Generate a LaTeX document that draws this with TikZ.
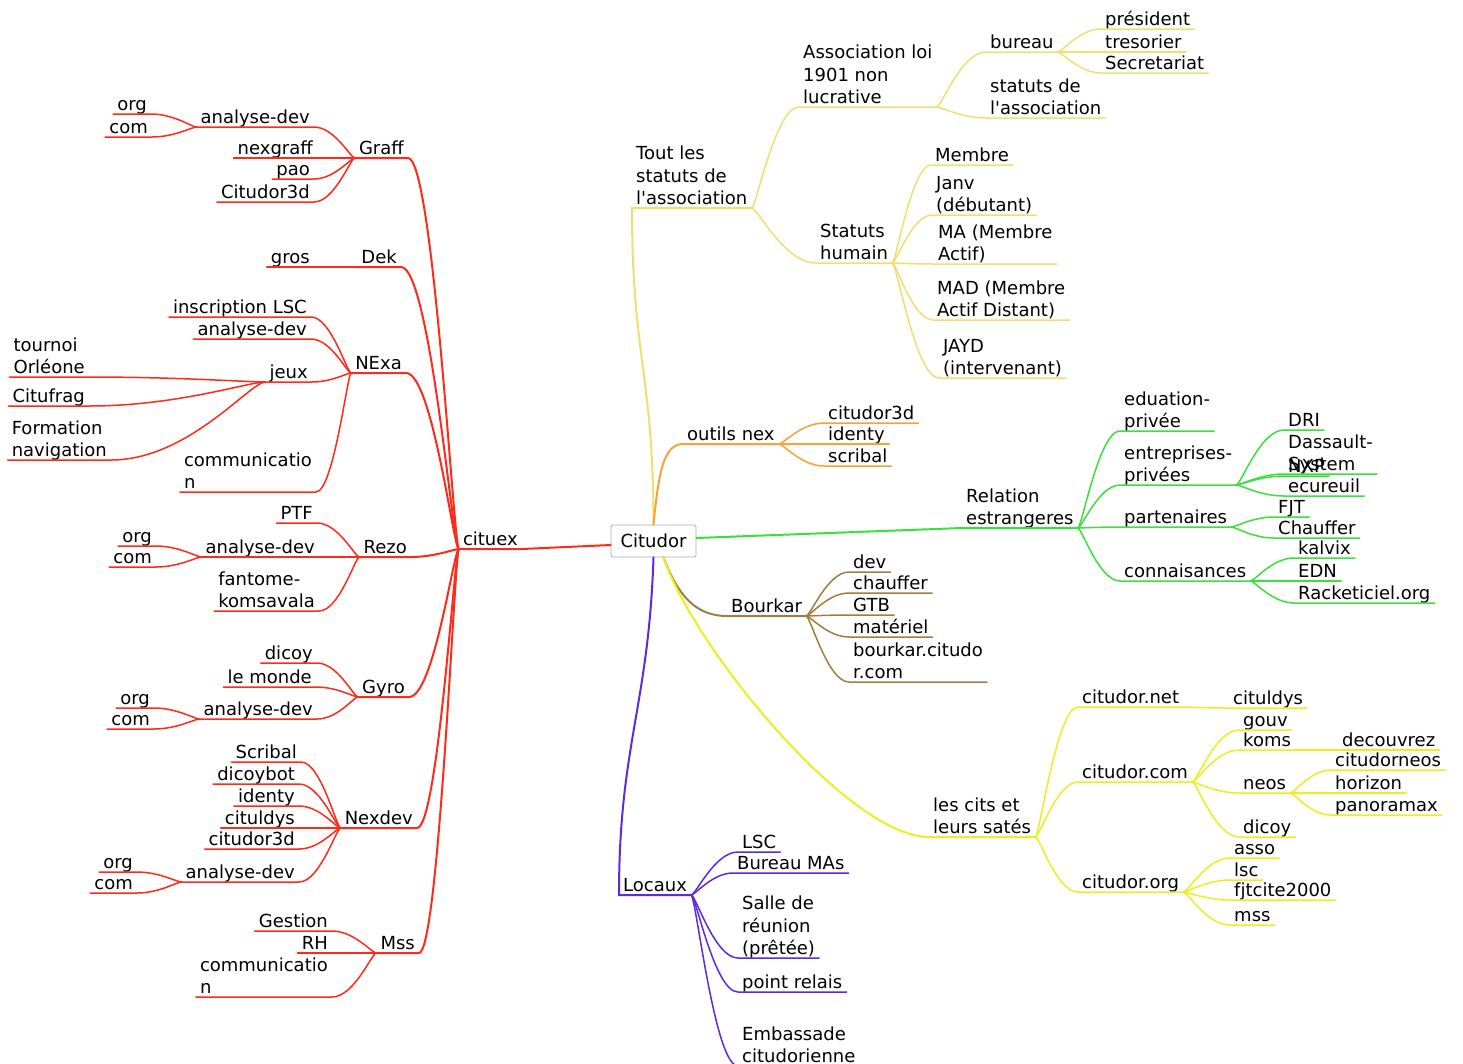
\documentclass[tikz,border=0pt]{standalone}
\usepackage{fontspec}
\newfontfamily\mmfont{DejaVu Sans}
\usetikzlibrary{calc}
\definecolor{mmred}{HTML}{FF2A1A}
\definecolor{mmgold}{HTML}{F2DE70}
\definecolor{mmorange}{HTML}{F5A33A}
\definecolor{mmgreen}{HTML}{3BE03B}
\definecolor{mmbrown}{HTML}{A07E42}
\definecolor{mmyellow}{HTML}{EEEE1E}
\definecolor{mmpurple}{HTML}{5B2BE0}
\tikzset{
  topic/.style={font=\mmfont\fontsize{18}{22.5}\selectfont, inner xsep=4pt, inner ysep=3pt, text depth=0pt, align=left},
  rt/.style={topic, anchor=south west},
  lt/.style={topic, anchor=south east},
  link/.style={line width=1.5pt, line cap=round},
  trunk/.style={line width=2pt, line cap=round},
  rootbox/.style={font=\mmfont\fontsize{18}{22.5}\selectfont, draw=gray!65, line width=0.8pt, fill=white, rounded corners=2pt, minimum width=85pt, minimum height=32pt}
}
% curve from the end of the parent's underline to the child, then the child's underline
\newcommand{\rlink}[3]{\draw[#1] let \p1=(#2.south east), \p2=(#3.south west), \n1={\x2-\x1} in
  (\p1) .. controls +({0.1*\n1},0) and +({-0.5*\n1},0) .. (\p2) -- (#3.south east);}
\newcommand{\llink}[3]{\draw[#1] let \p1=(#2.south west), \p2=(#3.south east), \n1={\x2-\x1} in
  (\p1) .. controls +({0.1*\n1},0) and +({-0.5*\n1},0) .. (\p2) -- (#3.south west);}
\begin{document}
\begin{tikzpicture}[x=1pt, y=-1pt]
    \fill[white] (0,0) rectangle (1463,1063);
    \useasboundingbox (0,0) rectangle (1463,1063);
    \node[rootbox] (citudor) at (653.5,541) {Citudor};
    % left side
    \node[lt] (cituex) at (522,549) {cituex};
    \node[lt] (graff) at (408,158) {Graff};
    \node[lt] (dek) at (401,267) {Dek};
    \node[lt] (nexa) at (406,373) {NExa};
    \node[lt] (rezo) at (411,557) {Rezo};
    \node[lt] (gyro) at (409,697) {Gyro};
    \node[lt] (nexdev) at (417,828) {Nexdev};
    \node[lt] (mss) at (419,953) {Mss};
    \node[lt] (graffad) at (314,127) {analyse-dev};
    \node[lt] (grafforg) at (151,114) {org};
    \node[lt] (graffcom) at (152,137) {com};
    \node[lt] (nexgraff) at (317,158) {nexgraff};
    \node[lt] (pao) at (314,179) {pao};
    \node[lt] (graffthreed) at (314,202) {Citudor3d};
    \node[lt] (gros) at (314,267) {gros};
    \node[lt] (inscription) at (311,317) {inscription LSC};
    \node[lt] (nexaad) at (311,339) {analyse-dev};
    \node[lt] (jeux) at (312,382) {jeux};
    \node[lt] (tournoi) at (89,377) {tournoi\\Orléone};
    \node[lt] (citufrag) at (89,406) {Citufrag};
    \node[lt] (formation) at (111,460) {Formation\\navigation};
    \node[lt] (nexacomm) at (316,492) {communicatio\\n};
    \node[lt] (ptf) at (317,523) {PTF};
    \node[lt] (rezoad) at (319,557) {analyse-dev};
    \node[lt] (rezoorg) at (156,546) {org};
    \node[lt] (rezocom) at (156,567) {com};
    \node[lt] (fantome) at (319,611) {fantome-\\komsavala};
    \node[lt] (gyrodicoy) at (317,663) {dicoy};
    \node[lt] (lemonde) at (316,687) {le monde};
    \node[lt] (gyroad) at (317,719) {analyse-dev};
    \node[lt] (gyroorg) at (154,708) {org};
    \node[lt] (gyrocom) at (154,729) {com};
    \node[lt] (nexscribal) at (301,762) {Scribal};
    \node[lt] (dicoybot) at (299,784) {dicoybot};
    \node[lt] (nexidenty) at (299,806) {identy};
    \node[lt] (nexcituldys) at (299,828) {cituldys};
    \node[lt] (nexthreed) at (299,849) {citudor3d};
    \node[lt] (nexdevad) at (299,882) {analyse-dev};
    \node[lt] (nexdevorg) at (137,872) {org};
    \node[lt] (nexdevcom) at (137,893) {com};
    \node[lt] (gestion) at (332,931) {Gestion};
    \node[lt] (rh) at (332,953) {RH};
    \node[lt] (msscomm) at (332,997) {communicatio\\n};
    % right side
    \node[rt] (tout) at (632,208) {Tout les\\statuts de\\l'association};
    \node[rt] (assoc) at (799,107) {Association loi\\1901 non\\lucrative};
    \node[rt] (bureau) at (986,52) {bureau};
    \node[rt] (president) at (1101,29) {président};
    \node[rt] (tresorier) at (1101,52) {tresorier};
    \node[rt] (secretariat) at (1101,73) {Secretariat};
    \node[rt] (statutsasso) at (986,118) {statuts de\\l'association};
    \node[rt] (humain) at (816,263) {Statuts\\humain};
    \node[rt] (membre) at (931,165) {Membre};
    \node[rt] (janv) at (932,215) {Janv\\(débutant)};
    \node[rt] (ma) at (934,264) {MA (Membre\\Actif)};
    \node[rt] (mad) at (933,320) {MAD (Membre\\Actif Distant)};
    \node[rt] (jayd) at (939,378) {JAYD\\(intervenant)};
    \node[rt] (outils) at (683,444) {outils nex};
    \node[rt] (outilsthreed) at (824,423) {citudor3d};
    \node[rt] (outilsidenty) at (824,444) {identy};
    \node[rt] (outilsscribal) at (824,466) {scribal};
    \node[rt] (relation) at (962,528) {Relation\\estrangeres};
    \node[rt] (eduation) at (1120,431) {eduation-\\privée};
    \node[rt] (entreprises) at (1120,485) {entreprises-\\privées};
    \node[rt] (dri) at (1284,430) {DRI};
    \node[rt] (dassault) at (1284,474) {Dassault-\\System};
    \node[rt] (nxp) at (1284,476) {NXP};
    \node[rt] (ecureuil) at (1284,496) {ecureuil};
    \node[rt] (partenaires) at (1120,527) {partenaires};
    \node[rt] (fjt) at (1274,517) {FJT};
    \node[rt] (partchauffer) at (1274,538) {Chauffer};
    \node[rt] (connaisances) at (1120,581) {connaisances};
    \node[rt] (kalvix) at (1294,558) {kalvix};
    \node[rt] (edn) at (1294,581) {EDN};
    \node[rt] (racketiciel) at (1294,603) {Racketiciel.org};
    \node[rt] (bourkar) at (727,616) {Bourkar};
    \node[rt] (dev) at (849,572) {dev};
    \node[rt] (bourchauffer) at (849,593) {chauffer};
    \node[rt] (gtb) at (849,615) {GTB};
    \node[rt] (materiel) at (849,637) {matériel};
    \node[rt] (bourkarcom) at (849,682) {bourkar.citudo\\r.com};
    \node[rt] (cits) at (929,837) {les cits et\\leurs satés};
    \node[rt] (citudornet) at (1078,707) {citudor.net};
    \node[rt] (netcituldys) at (1229,708) {cituldys};
    \node[rt] (citudorcom) at (1078,782) {citudor.com};
    \node[rt] (gouv) at (1239,730) {gouv};
    \node[rt] (koms) at (1239,750) {koms};
    \node[rt] (decouvrez) at (1338,750) {decouvrez};
    \node[rt] (neos) at (1239,793) {neos};
    \node[rt] (citudorneos) at (1331,770) {citudorneos};
    \node[rt] (horizon) at (1331,793) {horizon};
    \node[rt] (panoramax) at (1331,815) {panoramax};
    \node[rt] (comdicoy) at (1239,837) {dicoy};
    \node[rt] (citudororg) at (1078,892) {citudor.org};
    \node[rt] (asso) at (1230,858) {asso};
    \node[rt] (lsc) at (1230,880) {lsc};
    \node[rt] (fjtcite) at (1230,900) {fjtcite2000};
    \node[rt] (orgmss) at (1230,925) {mss};
    \node[rt] (locaux) at (619,895) {Locaux};
    \node[rt] (locauxlsc) at (738,852) {LSC};
    \node[rt] (bureaumas) at (733,873) {Bureau MAs};
    \node[rt] (salle) at (738,958) {Salle de\\réunion\\(prêtée)};
    \node[rt] (relais) at (738,992) {point relais};
    \node[rt] (embassade) at (738,1066) {Embassade\\citudorienne};
    % branches from the root
    \draw[trunk,mmred] ([yshift=-4pt]citudor.west) -- (cituex.south east) -- (cituex.south west);
    \draw[trunk,mmgold] (citudor.north) .. controls +(0,-150) and +(0,150) .. (tout.south west) -- (tout.south east);
    \draw[trunk,mmorange] (citudor.north) .. controls +(5,-50) and +(-20,0) .. (outils.south west) -- (outils.south east);
    \draw[trunk,mmgreen] ([yshift=3pt]citudor.east) -- (relation.south west) -- (relation.south east);
    \draw[trunk,mmbrown] ([xshift=10pt]citudor.south) .. controls +(15,40) and +(-30,0) .. (bourkar.south west) -- (bourkar.south east);
    \draw[trunk,mmyellow] ([xshift=10pt]citudor.south) .. controls +(30,90) and +(-80,0) .. (cits.south west) -- (cits.south east);
    \draw[trunk,mmpurple] (citudor.south) .. controls +(-5,150) and +(0,-150) .. (locaux.south west) -- (locaux.south east);
    % cituex
    \llink{trunk,mmred}{cituex}{graff}
    \llink{trunk,mmred}{cituex}{dek}
    \llink{trunk,mmred}{cituex}{nexa}
    \llink{trunk,mmred}{cituex}{rezo}
    \llink{trunk,mmred}{cituex}{gyro}
    \llink{trunk,mmred}{cituex}{nexdev}
    \llink{trunk,mmred}{cituex}{mss}
    \llink{link,mmred}{graff}{graffad}
    \llink{link,mmred}{graff}{nexgraff}
    \llink{link,mmred}{graff}{pao}
    \llink{link,mmred}{graff}{graffthreed}
    \llink{link,mmred}{graffad}{grafforg}
    \llink{link,mmred}{graffad}{graffcom}
    \llink{link,mmred}{dek}{gros}
    \llink{link,mmred}{nexa}{inscription}
    \llink{link,mmred}{nexa}{nexaad}
    \llink{link,mmred}{nexa}{jeux}
    \llink{link,mmred}{nexa}{nexacomm}
    \llink{link,mmred}{jeux}{tournoi}
    \llink{link,mmred}{jeux}{citufrag}
    \llink{link,mmred}{jeux}{formation}
    \llink{link,mmred}{rezo}{ptf}
    \llink{link,mmred}{rezo}{rezoad}
    \llink{link,mmred}{rezo}{fantome}
    \llink{link,mmred}{rezoad}{rezoorg}
    \llink{link,mmred}{rezoad}{rezocom}
    \llink{link,mmred}{gyro}{gyrodicoy}
    \llink{link,mmred}{gyro}{lemonde}
    \llink{link,mmred}{gyro}{gyroad}
    \llink{link,mmred}{gyroad}{gyroorg}
    \llink{link,mmred}{gyroad}{gyrocom}
    \llink{link,mmred}{nexdev}{nexscribal}
    \llink{link,mmred}{nexdev}{dicoybot}
    \llink{link,mmred}{nexdev}{nexidenty}
    \llink{link,mmred}{nexdev}{nexcituldys}
    \llink{link,mmred}{nexdev}{nexthreed}
    \llink{link,mmred}{nexdev}{nexdevad}
    \llink{link,mmred}{nexdevad}{nexdevorg}
    \llink{link,mmred}{nexdevad}{nexdevcom}
    \llink{link,mmred}{mss}{gestion}
    \llink{link,mmred}{mss}{rh}
    \llink{link,mmred}{mss}{msscomm}
    % statuts
    \rlink{link,mmgold}{tout}{assoc}
    \rlink{link,mmgold}{tout}{humain}
    \rlink{link,mmgold}{assoc}{bureau}
    \rlink{link,mmgold}{assoc}{statutsasso}
    \rlink{link,mmgold}{bureau}{president}
    \rlink{link,mmgold}{bureau}{tresorier}
    \rlink{link,mmgold}{bureau}{secretariat}
    \rlink{link,mmgold}{humain}{membre}
    \rlink{link,mmgold}{humain}{janv}
    \rlink{link,mmgold}{humain}{ma}
    \rlink{link,mmgold}{humain}{mad}
    \rlink{link,mmgold}{humain}{jayd}
    % outils
    \rlink{link,mmorange}{outils}{outilsthreed}
    \rlink{link,mmorange}{outils}{outilsidenty}
    \rlink{link,mmorange}{outils}{outilsscribal}
    % relations
    \rlink{link,mmgreen}{relation}{eduation}
    \rlink{link,mmgreen}{relation}{entreprises}
    \rlink{link,mmgreen}{relation}{partenaires}
    \rlink{link,mmgreen}{relation}{connaisances}
    \rlink{link,mmgreen}{entreprises}{dri}
    \rlink{link,mmgreen}{entreprises}{dassault}
    \rlink{link,mmgreen}{entreprises}{nxp}
    \rlink{link,mmgreen}{entreprises}{ecureuil}
    \rlink{link,mmgreen}{partenaires}{fjt}
    \rlink{link,mmgreen}{partenaires}{partchauffer}
    \rlink{link,mmgreen}{connaisances}{kalvix}
    \rlink{link,mmgreen}{connaisances}{edn}
    \rlink{link,mmgreen}{connaisances}{racketiciel}
    % bourkar
    \rlink{link,mmbrown}{bourkar}{dev}
    \rlink{link,mmbrown}{bourkar}{bourchauffer}
    \rlink{link,mmbrown}{bourkar}{gtb}
    \rlink{link,mmbrown}{bourkar}{materiel}
    \rlink{link,mmbrown}{bourkar}{bourkarcom}
    % sites
    \rlink{link,mmyellow}{cits}{citudornet}
    \rlink{link,mmyellow}{cits}{citudorcom}
    \rlink{link,mmyellow}{cits}{citudororg}
    \rlink{link,mmyellow}{citudornet}{netcituldys}
    \rlink{link,mmyellow}{citudorcom}{gouv}
    \rlink{link,mmyellow}{citudorcom}{koms}
    \rlink{link,mmyellow}{citudorcom}{neos}
    \rlink{link,mmyellow}{citudorcom}{comdicoy}
    \rlink{link,mmyellow}{koms}{decouvrez}
    \rlink{link,mmyellow}{neos}{citudorneos}
    \rlink{link,mmyellow}{neos}{horizon}
    \rlink{link,mmyellow}{neos}{panoramax}
    \rlink{link,mmyellow}{citudororg}{asso}
    \rlink{link,mmyellow}{citudororg}{lsc}
    \rlink{link,mmyellow}{citudororg}{fjtcite}
    \rlink{link,mmyellow}{citudororg}{orgmss}
    % locaux
    \rlink{link,mmpurple}{locaux}{locauxlsc}
    \rlink{link,mmpurple}{locaux}{bureaumas}
    \rlink{link,mmpurple}{locaux}{salle}
    \rlink{link,mmpurple}{locaux}{relais}
    \rlink{link,mmpurple}{locaux}{embassade}
\end{tikzpicture}
\end{document}
